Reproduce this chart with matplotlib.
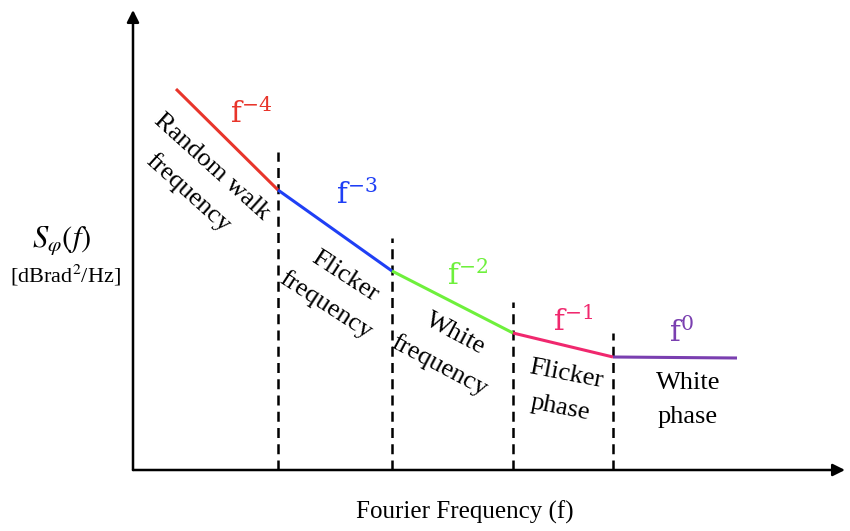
import matplotlib.pyplot as plt

plt.rcParams['font.family'] = ['Liberation Serif', 'DejaVu Serif']
plt.rcParams['mathtext.fontset'] = 'stix'

# piecewise power-law segments (x in arbitrary freq units, y in arbitrary level)
break_x = [0.43, 1.45, 2.59, 3.80, 4.80, 6.04]
break_y = [3.81, 2.80, 1.99, 1.37, 1.13, 1.12]
seg_colors = ['#e8352b', '#1f3ff5', '#6ef03c', '#f0286e', '#7a3fb0']
seg_labels = [r'$\mathrm{f}^{-4}$', r'$\mathrm{f}^{-3}$', r'$\mathrm{f}^{-2}$',
              r'$\mathrm{f}^{-1}$', r'$\mathrm{f}^{0}$']
seg_label_pos = [(1.18, 3.56), (2.24, 2.75), (3.35, 1.94), (4.40, 1.48), (5.48, 1.37)]

# dashed separators
div_x = [1.45, 2.59, 3.80, 4.80]
div_top = [3.18, 2.32, 1.68, 1.37]

# noise regions
region_names = ['Random walk\nfrequency', 'Flicker\nfrequency', 'White\nfrequency',
                'Flicker\nphase', 'White\nphase']
region_pos = [(0.67, 2.90), (2.02, 1.79), (3.14, 1.20), (4.30, 0.79), (5.55, 0.70)]
region_rot = [-42, -33, -28, -11, 0]

fig = plt.figure(figsize=(8.5, 5.31), dpi=100)
ax = fig.add_axes([133/850, 61/531, 712/850, 460/531])
ax.set_xlim(0, 7.12)
ax.set_ylim(0, 4.60)
ax.axis('off')

# axis arrows
ax.annotate('', xy=(1, 0), xytext=(0, 0), xycoords='axes fraction',
            arrowprops=dict(arrowstyle='-|>', lw=1.8, color='black', mutation_scale=18,
                            shrinkA=0, shrinkB=0))
ax.annotate('', xy=(0, 1), xytext=(0, 0), xycoords='axes fraction',
            arrowprops=dict(arrowstyle='-|>', lw=1.8, color='black', mutation_scale=18,
                            shrinkA=0, shrinkB=0))

for i in range(5):
    ax.plot(break_x[i:i+2], break_y[i:i+2], color=seg_colors[i], lw=2.2,
            solid_capstyle='butt', zorder=3)
    ax.text(*seg_label_pos[i], seg_labels[i], color=seg_colors[i], fontsize=21,
            ha='center', va='center', math_fontfamily='dejavuserif')

for x, top in zip(div_x, div_top):
    ax.plot([x, x], [0, top], color='black', lw=1.8, ls=(0, (4, 2.5)), zorder=2)

for name, (x, y), r in zip(region_names, region_pos, region_rot):
    ax.text(x, y, name, rotation=r, rotation_mode='anchor', ha='center', va='center',
            multialignment='center', fontsize=19, linespacing=1.7)

fig.text(62/850, 1 - 240/531, r'$S_{\varphi}(f)$', fontsize=22, ha='center', va='center')
fig.text(65/850, 1 - 275/531, r'[dBrad$^2$/Hz]', fontsize=16, ha='center', va='center')
fig.text(465/850, 1 - 512/531, 'Fourier Frequency (f)', fontsize=18, ha='center', va='center')

fig.savefig('out.png', dpi=100)
